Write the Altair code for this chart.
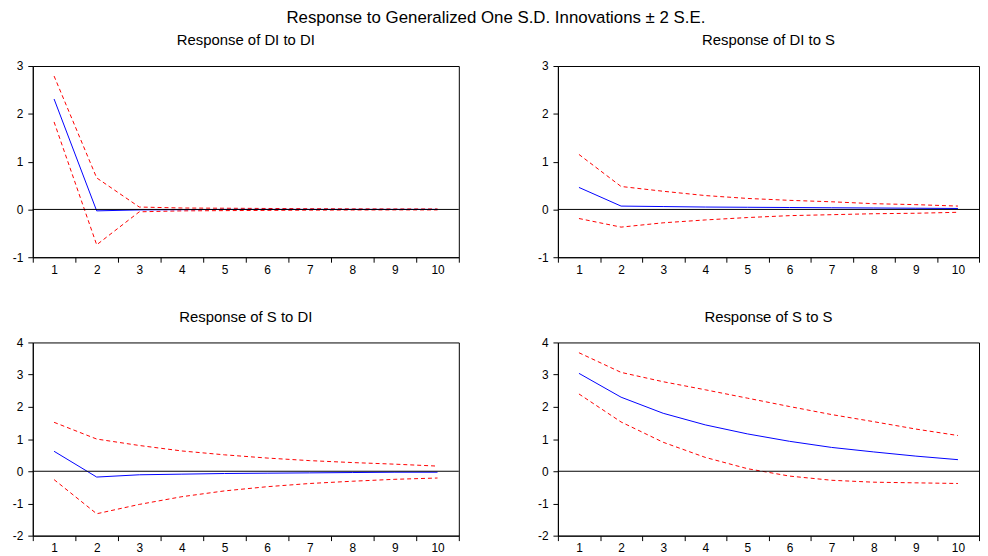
import altair as alt
import pandas as pd

horizons = list(range(1, 11))

di_di_resp = [2.31, -0.03, -0.01, -0.005, 0.0, 0.0, 0.0, 0.0, 0.0, 0.0]
di_di_up = [2.79, 0.66, 0.05, 0.03, 0.025, 0.02, 0.015, 0.012, 0.01, 0.01]
di_di_lo = [1.83, -0.74, -0.05, -0.03, -0.025, -0.02, -0.015, -0.012, -0.01, -0.01]

di_s_resp = [0.46, 0.07, 0.06, 0.05, 0.045, 0.04, 0.035, 0.03, 0.025, 0.02]
di_s_up = [1.15, 0.48, 0.38, 0.29, 0.23, 0.19, 0.16, 0.12, 0.10, 0.07]
di_s_lo = [-0.19, -0.37, -0.28, -0.22, -0.17, -0.13, -0.11, -0.09, -0.08, -0.06]

s_di_resp = [0.62, -0.18, -0.11, -0.09, -0.07, -0.06, -0.05, -0.04, -0.03, -0.03]
s_di_up = [1.52, 1.00, 0.80, 0.63, 0.51, 0.41, 0.33, 0.27, 0.22, 0.16]
s_di_lo = [-0.26, -1.32, -1.03, -0.79, -0.61, -0.48, -0.38, -0.31, -0.25, -0.21]

s_s_resp = [3.04, 2.30, 1.80, 1.44, 1.16, 0.93, 0.74, 0.60, 0.47, 0.36]
s_s_up = [3.68, 3.07, 2.78, 2.53, 2.27, 2.01, 1.76, 1.54, 1.31, 1.11]
s_s_lo = [2.40, 1.53, 0.90, 0.43, 0.08, -0.15, -0.28, -0.34, -0.36, -0.38]

FONT = "Liberation Sans"


def panel(title, resp, up, lo, ydom, yvals, width, height):
    xenc = alt.X(
        "h:O",
        bandPosition=0.5,
        scale=alt.Scale(type="band", paddingInner=0, paddingOuter=0),
        axis=alt.Axis(title=None, labelAngle=0, tickBand="extent", tickSize=5,
                      labelPadding=2),
    )
    yscale = alt.Scale(domain=ydom, nice=False, zero=False)
    yaxis = alt.Axis(title=None, values=yvals, tickSize=5, labelPadding=5, grid=False,
                     labelExpr="'' + datum.value")

    def line(vals, color, dash=None):
        df = pd.DataFrame({"h": horizons, "v": vals})
        kw = dict(color=color, strokeWidth=1)
        if dash:
            kw["strokeDash"] = dash
        return alt.Chart(df).mark_line(**kw).encode(
            x=xenc, y=alt.Y("v:Q", scale=yscale, axis=yaxis)
        )

    zero = alt.Chart(pd.DataFrame({"z": [0]})).mark_rule(color="black", strokeWidth=1).encode(
        y=alt.Y("z:Q", scale=yscale, axis=yaxis)
    )
    return alt.layer(
        line(up, "#ff0000", [4, 3]),
        line(lo, "#ff0000", [4, 3]),
        line(resp, "#0000ff"),
        zero,
    ).properties(
        width=width,
        height=height,
        title=alt.TitleParams(title, fontSize=15, fontWeight="normal", font=FONT,
                              anchor="middle", offset=12, color="black"),
    )


W, H = 430, 193
RW = 425
p1 = panel("Response of DI to DI", di_di_resp, di_di_up, di_di_lo, [-1, 3], [-1, 0, 1, 2, 3], W, H)
p2 = panel("Response of DI to S", di_s_resp, di_s_up, di_s_lo, [-1, 3], [-1, 0, 1, 2, 3], RW, H)
p3 = panel("Response of S to DI", s_di_resp, s_di_up, s_di_lo, [-2, 4], [-2, -1, 0, 1, 2, 3, 4], W, 195)
p4 = panel("Response of S to S", s_s_resp, s_s_up, s_s_lo, [-2, 4], [-2, -1, 0, 1, 2, 3, 4], RW, 195)

row1 = alt.hconcat(p1, p2, spacing=77)
row2 = alt.hconcat(p3, p4, spacing=77)

chart = alt.vconcat(row1, row2, spacing=33).properties(
    title=alt.TitleParams(
        "Response to Generalized One S.D. Innovations \u00b1 2 S.E.",
        fontSize=17, fontWeight="normal", font=FONT, anchor="middle", color="black", offset=6,
    ),
    padding={"left": 3, "top": -2, "right": 0, "bottom": 0},
    background="white",
).configure_view(stroke="black", strokeWidth=1).configure_axis(
    domainColor="black", tickColor="black", labelColor="black", labelFont=FONT,
    labelFontSize=12, grid=False, domainWidth=1, tickWidth=1,
)

chart.save("out.html", embed_options={"renderer": "svg", "actions": False})
